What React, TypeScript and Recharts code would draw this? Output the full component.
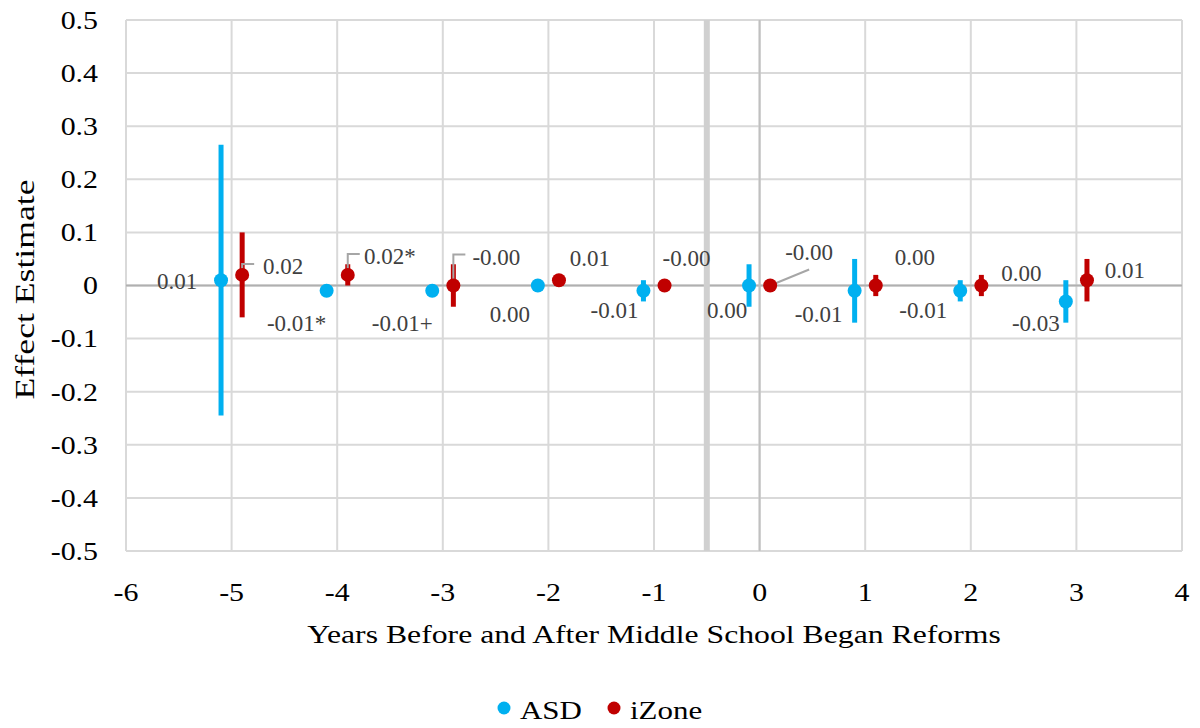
import {
  CartesianGrid,
  ComposedChart,
  ErrorBar,
  Legend,
  ReferenceLine,
  Scatter,
  XAxis,
  YAxis,
} from "recharts";

const asdYears = [-5.1, -4.1, -3.1, -2.1, -1.1, -0.1, 0.9, 1.9, 2.9];
const asdEstimates = [0.01, -0.01, -0.01, 0.0, -0.01, 0.0, -0.01, -0.01, -0.03];
const asdLower = [-0.245, -0.012, -0.012, -0.002, -0.03, -0.04, -0.07, -0.03, -0.07];
const asdUpper = [0.265, -0.008, -0.008, 0.002, 0.01, 0.04, 0.05, 0.01, 0.01];
const asdLabels = ["0.01", "-0.01*", "-0.01+", "0.00", "-0.01", "0.00", "-0.01", "-0.01", "-0.03"];

const izoneYears = [-4.9, -3.9, -2.9, -1.9, -0.9, 0.1, 1.1, 2.1, 3.1];
const izoneEstimates = [0.02, 0.02, 0.0, 0.01, 0.0, 0.0, 0.0, 0.0, 0.01];
const izoneLower = [-0.06, 0.0, -0.04, 0.008, -0.002, -0.002, -0.02, -0.02, -0.03];
const izoneUpper = [0.1, 0.04, 0.04, 0.012, 0.002, 0.002, 0.02, 0.02, 0.05];
const izoneLabels = ["0.02", "0.02*", "-0.00", "0.01", "-0.00", "-0.00", "0.00", "0.00", "0.01"];

const xTicks = [-6, -5, -4, -3, -2, -1, 0, 1, 2, 3, 4];
const yTicks = [-0.5, -0.4, -0.3, -0.2, -0.1, 0, 0.1, 0.2, 0.3, 0.4, 0.5];

// label placement (px from the point), placed by hand in the original
const asdLabelOffsets = [
  [-44, 1], [-30, 33], [-30, 33], [-28, 29], [-29, 20], [-22, 25], [-36, 24], [-37, 20], [-30, 22],
];
const izoneLabelOffsets = [
  [41, -8], [42, -18], [43, -28], [31, -22], [22, -27], [39, -33], [39, -28], [40, -12], [38, -10],
];

const ASD = "#00B0F0";
const IZONE = "#C00000";
const FONT = "'Liberation Serif', 'Times New Roman', serif";
const STRETCH = 1.15;

const build = (xs: number[], est: number[], lo: number[], hi: number[], labels: string[]) =>
  xs.map((x, i) => ({
    i,
    x,
    y: est[i],
    err: [est[i] - lo[i], hi[i] - est[i]],
    label: labels[i],
  }));

const asdData = build(asdYears, asdEstimates, asdLower, asdUpper, asdLabels);
const izoneData = build(izoneYears, izoneEstimates, izoneLower, izoneUpper, izoneLabels);

const labelText = (x: number, y: number, text: string) => (
  <text
    x={x}
    y={y}
    textAnchor="middle"
    dominantBaseline="central"
    fontFamily={FONT}
    fontSize={23}
    fill="#404040"
  >
    {text}
  </text>
);

function AsdDot(props: any) {
  const { cx, cy, payload } = props;
  const [dx, dy] = asdLabelOffsets[payload.i];
  return (
    <g>
      <circle cx={cx} cy={cy} r={7} fill={ASD} />
      {labelText(cx + dx, cy + dy, payload.label)}
    </g>
  );
}

function IzoneDot(props: any) {
  const { cx, cy, payload } = props;
  const i = payload.i;
  const [dx, dy] = izoneLabelOffsets[i];
  let leader = null;
  if (i <= 2) {
    const ly = cy + dy - 3;
    leader = (
      <polyline
        points={`${cx},${cy} ${cx},${ly} ${cx + 12},${ly}`}
        fill="none"
        stroke="#a6a6a6"
        strokeWidth={2}
      />
    );
  } else if (i === 5) {
    leader = (
      <line x1={cx} y1={cy} x2={cx + 39} y2={cy - 16} stroke="#a6a6a6" strokeWidth={2} />
    );
  }
  return (
    <g>
      {leader}
      <circle cx={cx} cy={cy} r={7} fill={IZONE} />
      {labelText(cx + dx, cy + dy, payload.label)}
    </g>
  );
}

function XTick(props: any) {
  const { x, y, payload } = props;
  return (
    <text
      transform={`translate(${x},${y + 14}) scale(${STRETCH},1)`}
      textAnchor="middle"
      dominantBaseline="central"
      fontFamily={FONT}
      fontSize={26}
      fill="#000"
    >
      {payload.value}
    </text>
  );
}

function YTick(props: any) {
  const { x, y, payload } = props;
  const v = payload.value as number;
  return (
    <text
      transform={`translate(${x},${y}) scale(${STRETCH},1)`}
      textAnchor="end"
      dominantBaseline="central"
      fontFamily={FONT}
      fontSize={26}
      fill="#000"
    >
      {v === 0 ? "0" : v.toFixed(1)}
    </text>
  );
}

function XTitle(props: any) {
  const { viewBox } = props;
  return (
    <text
      transform={`translate(${viewBox.x + viewBox.width / 2},643) scale(1.22,1)`}
      textAnchor="middle"
      fontFamily={FONT}
      fontSize={26}
      fill="#000"
    >
      Years Before and After Middle School Began Reforms
    </text>
  );
}

function YTitle(props: any) {
  const { viewBox } = props;
  const cy = viewBox.y + viewBox.height / 2 + 4;
  return (
    <text
      transform={`translate(34,${cy}) rotate(-90) scale(1.32,1)`}
      textAnchor="middle"
      fontFamily={FONT}
      fontSize={27}
      fill="#000"
    >
      Effect Estimate
    </text>
  );
}

const legendItems = [
  { name: "ASD", color: ASD, dot: 504, text: 520 },
  { name: "iZone", color: IZONE, dot: 614, text: 630 },
];

function LegendContent() {
  return (
    <svg width={1200} height={67} style={{ display: "block" }}>
      {legendItems.map((it) => (
        <g key={it.name}>
          <circle cx={it.dot} cy={47} r={6.5} fill={it.color} />
          <text
            transform={`translate(${it.text},58) scale(1.19,1)`}
            fontFamily={FONT}
            fontSize={26}
            fill="#000"
          >
            {it.name}
          </text>
        </g>
      ))}
    </svg>
  );
}

export default function App() {
  return (
    <div style={{ position: "absolute", left: 0, top: 0, background: "#fff" }}>
      <ComposedChart
        width={1200}
        height={728}
        margin={{ top: 20, right: 18, bottom: 0, left: 0 }}
      >
        <CartesianGrid stroke="#d9d9d9" strokeWidth={2} />
        <XAxis
          type="number"
          dataKey="x"
          domain={[-6, 4]}
          ticks={xTicks}
          interval={0}
          axisLine={false}
          tickLine={false}
          tickMargin={21}
          height={110}
          tick={<XTick />}
          label={<XTitle />}
        />
        <YAxis
          type="number"
          dataKey="y"
          domain={[-0.5, 0.5]}
          ticks={yTicks}
          interval={0}
          axisLine={false}
          tickLine={false}
          tickMargin={22}
          width={126}
          tick={<YTick />}
          label={<YTitle />}
        />
        <ReferenceLine y={0} stroke="#b0b0b0" strokeWidth={2} />
        <ReferenceLine x={0} stroke="#c0c0c0" strokeWidth={2} />
        <ReferenceLine x={-0.5} stroke="#d0d0d0" strokeWidth={6} />
        <Legend
          verticalAlign="bottom"
          height={67}
          wrapperStyle={{ left: 0, width: 1200 }}
          content={<LegendContent />}
        />
        <Scatter
          name="ASD"
          data={asdData}
          fill={ASD}
          shape={<AsdDot />}
          isAnimationActive={false}
        >
          <ErrorBar dataKey="err" direction="y" width={0} stroke={ASD} strokeWidth={5} />
        </Scatter>
        <Scatter
          name="iZone"
          data={izoneData}
          fill={IZONE}
          shape={<IzoneDot />}
          isAnimationActive={false}
        >
          <ErrorBar dataKey="err" direction="y" width={0} stroke={IZONE} strokeWidth={5} />
        </Scatter>
      </ComposedChart>
    </div>
  );
}
